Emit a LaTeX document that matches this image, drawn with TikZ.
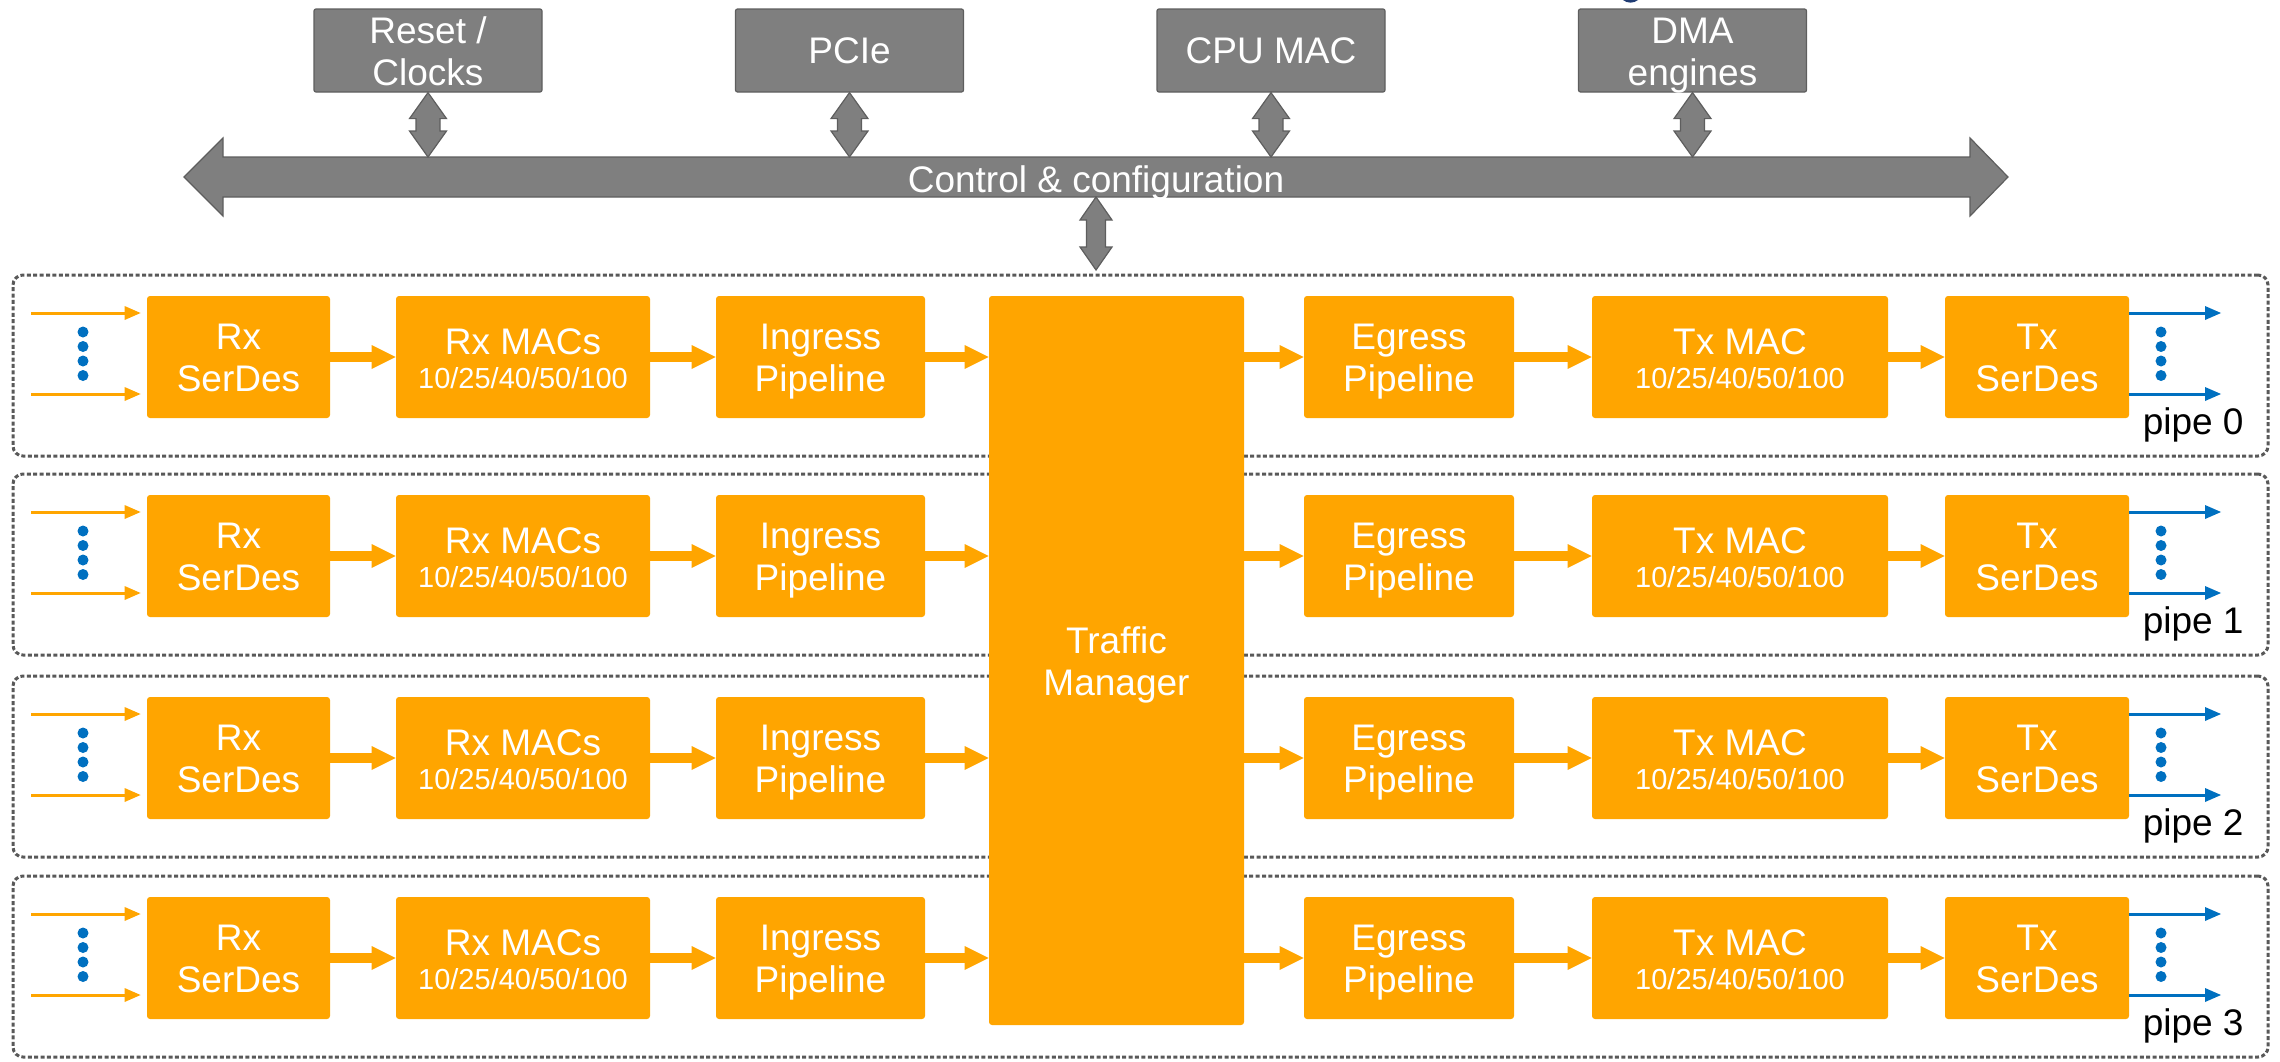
\documentclass[tikz,border=0pt]{standalone}
\usepackage{fontspec}
\setmainfont{Liberation Sans}
\usetikzlibrary{arrows.meta,calc}

\definecolor{blk}{HTML}{FFA500}
\definecolor{busgray}{HTML}{7F7F7F}
\definecolor{busline}{HTML}{5E5E5E}
\definecolor{portblue}{HTML}{0070C0}
\definecolor{framegray}{HTML}{595959}
\definecolor{titleblue}{HTML}{1F3B73}

\newcommand{\bigfont}{\fontsize{18.5pt}{21pt}\selectfont}
\newcommand{\smallfont}{\fontsize{14.5pt}{17pt}\selectfont}
% fixed first-line height and last-line depth, so every block sets its text alike
\newcommand{\topline}{\rule{0pt}{17.5pt}}
\newcommand{\botline}[1][4pt]{\rule[-#1]{0pt}{#1}}

% up/down double arrow between two points: top, bottom, head length, head half width, shaft half width
\newcommand{\linkarrow}[5]{%
  \draw[busshape] let \p1=(#1), \p2=(#2) in
    (\x1,\y1) -- ({\x1+#4},{\y1-#3}) -- ({\x1+#5},{\y1-#3}) -- ({\x1+#5},{\y2+#3})
    -- ({\x1+#4},{\y2+#3}) -- (\x1,\y2) -- ({\x1-#4},{\y2+#3}) -- ({\x1-#5},{\y2+#3})
    -- ({\x1-#5},{\y1-#3}) -- ({\x1-#4},{\y1-#3}) -- cycle;}

\tikzset{
  stage/.style={fill=blk, draw=none, rounded corners=1.5pt, text=white, font=\bigfont,
    align=center, inner sep=0pt, minimum height=61pt},
  ctrlbox/.style={fill=busgray, draw=busline, line width=0.6pt, rounded corners=1pt,
    text=white, font=\bigfont, align=center, inner xsep=0pt, inner ysep=-1pt,
    minimum width=114pt, minimum height=41.5pt},
  pipeframe/.style={draw=framegray, line width=1.5pt, dash pattern=on 2pt off 1.2pt,
    rounded corners=5pt, minimum width=1127.5pt, minimum height=90.5pt, inner sep=0pt},
  flow/.style={draw=blk, line width=4.75pt,
    -{Triangle[length=12pt,width=12pt,line width=0pt]}},
  lanein/.style={draw=blk, line width=1.5pt, -{Triangle[length=8pt,width=7pt,line width=0pt]}},
  laneout/.style={draw=portblue, line width=1.5pt, -{Triangle[length=8pt,width=7pt,line width=0pt]}},
  busshape/.style={fill=busgray, draw=busline, line width=0.6pt, line join=miter},
  lanedot/.style={fill=portblue},
  pipelabel/.style={anchor=base east, font=\bigfont, inner sep=0pt, text=black},
}

\begin{document}
\begin{tikzpicture}[x=0.5pt, y=-0.5pt]
\useasboundingbox (0,0) rectangle (2280,1061);

% clipped piece of the heading above
\fill[titleblue] (1623,0) .. controls (1627,3.5) and (1634,3.5) .. (1638,0) -- cycle;

% control blocks
\node[ctrlbox] (rst)  at (428,50.5)   {\topline Reset /\\Clocks\botline};
\node[ctrlbox] (pcie) at (849.5,50.5) {\topline PCIe\botline[5pt]};
\node[ctrlbox] (cpu)  at (1271,50.5)  {\topline CPU MAC\botline[5pt]};
\node[ctrlbox] (dma)  at (1692.5,50.5){\topline DMA\\engines\botline};

% control & configuration bus
\coordinate (busT) at (1096,157);
\coordinate (busB) at (1096,197);
\draw[busshape] (184,177) -- (223,138) -- (223,157) -- (1970,157) -- (1970,138) -- (2008,177)
  -- (1970,216) -- (1970,197) -- (223,197) -- (223,216) -- cycle;
\node[text=white, font=\bigfont, inner sep=0pt, anchor=base] (bus) at (1096,192) {Control \& configuration};

\linkarrow{rst.south}{rst.south |- busT}{13pt}{9.25pt}{6pt}
\linkarrow{pcie.south}{pcie.south |- busT}{13pt}{9.25pt}{6pt}
\linkarrow{cpu.south}{cpu.south |- busT}{13pt}{9.25pt}{6pt}
\linkarrow{dma.south}{dma.south |- busT}{13pt}{9.25pt}{6pt}
\coordinate (tmlink) at (1096,270);
\linkarrow{busB}{tmlink}{11.5pt}{8pt}{4.75pt}

% pipe frames
\foreach \i/\b in {0/296,1/495,2/697,3/897} {
  \node[pipeframe] (frame\i) at (1140.5,\b+69.5) {};
}

% shared traffic manager
\node[stage, minimum width=127.5pt, minimum height=364.5pt] (tm) at (1116.5,660.5) {\topline Traffic\\Manager\botline[3pt]};

% the four pipes
\foreach \i/\b in {0/296,1/495,2/697,3/897} {
  \pgfmathsetmacro\cy{\b+61}
  \node[stage, minimum width=91.5pt] (rxs\i) at (238.5,\cy) {\topline Rx\\SerDes\botline};
  \node[stage, minimum width=127pt]  (rxm\i) at (523,\cy) {\topline Rx MACs\\[-3.75pt]{\smallfont 10/25/40/50/100}\botline[3.25pt]};
  \node[stage, minimum width=104.5pt] (ing\i) at (820.5,\cy) {\topline Ingress\\Pipeline\botline};
  \node[stage, minimum width=105pt]  (eg\i)  at (1409,\cy) {\topline Egress\\Pipeline\botline};
  \node[stage, minimum width=148pt]  (txm\i) at (1740,\cy) {\topline Tx MAC\\[-3.75pt]{\smallfont 10/25/40/50/100}\botline[3.25pt]};
  \node[stage, minimum width=92pt]   (txs\i) at (2037,\cy) {\topline Tx\\SerDes\botline};

  \draw[flow] (rxs\i.east) -- (rxm\i.west);
  \draw[flow] (rxm\i.east) -- (ing\i.west);
  \draw[flow] (ing\i.east) -- (ing\i.east -| tm.west);
  \draw[flow] (eg\i.west -| tm.east) -- (eg\i.west);
  \draw[flow] (eg\i.east) -- (txm\i.west);
  \draw[flow] (txm\i.east) -- (txs\i.west);

  % serial lanes in and out
  \coordinate (inA\i) at (31,\b+17);
  \coordinate (inB\i) at (31,\b+98);
  \coordinate (outA\i) at (2221,\b+17);
  \coordinate (outB\i) at (2221,\b+98);
  \draw[lanein, shorten >=3pt] (inA\i) -- (inA\i -| rxs\i.west);
  \draw[lanein, shorten >=3pt] (inB\i) -- (inB\i -| rxs\i.west);
  \draw[laneout] (outA\i -| txs\i.east) -- (outA\i);
  \draw[laneout] (outB\i -| txs\i.east) -- (outB\i);
  \foreach \d in {36,50.5,65,79.5} {
    \fill[lanedot] (83,\b+\d) circle[radius=2.75pt];
    \fill[lanedot] (2161,\b+\d) circle[radius=2.75pt];
  }

  \node[pipelabel] (plab\i) at (2244,\b+138) {pipe \i};
}
\end{tikzpicture}
\end{document}
